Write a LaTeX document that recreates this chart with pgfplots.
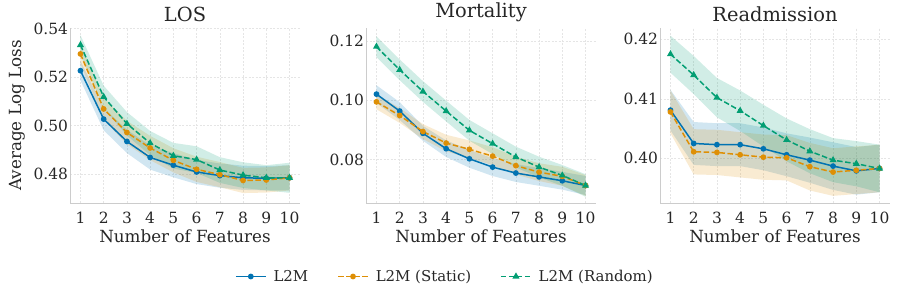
\documentclass[border=0pt]{standalone}
\usepackage{fontspec}
\setmainfont{DejaVu Serif}
\usepackage{pgfplots}
\usepackage{pgfplotstable}
\usepgfplotslibrary{fillbetween}
\pgfplotsset{compat=1.18}
\definecolor{cb}{HTML}{0173B2}
\definecolor{co}{HTML}{DE8F05}
\definecolor{cg}{HTML}{029E73}
\definecolor{spine}{HTML}{CCCCCC}
\definecolor{txt}{HTML}{262626}

\pgfplotstableread{
x b bl bh o ol oh g gl gh
1 0.5226 0.5186 0.5266 0.5295 0.5255 0.5335 0.5332 0.5292 0.5372
2 0.5026 0.4980 0.5072 0.5068 0.5022 0.5114 0.5118 0.5072 0.5164
3 0.4934 0.4886 0.4982 0.4971 0.4923 0.5019 0.5007 0.4959 0.5055
4 0.4868 0.4818 0.4918 0.4907 0.4857 0.4957 0.4927 0.4877 0.4977
5 0.4836 0.4786 0.4886 0.4856 0.4806 0.4906 0.4875 0.4822 0.4928
6 0.4808 0.4758 0.4858 0.4819 0.4767 0.4871 0.4859 0.4804 0.4914
7 0.4793 0.4743 0.4843 0.4797 0.4745 0.4849 0.4816 0.4763 0.4869
8 0.4784 0.4734 0.4834 0.4773 0.4721 0.4825 0.4795 0.4742 0.4848
9 0.4782 0.4732 0.4832 0.4775 0.4723 0.4827 0.4784 0.4732 0.4836
10 0.4784 0.4732 0.4836 0.4784 0.4732 0.4836 0.4784 0.4722 0.4846
}\los

\pgfplotstableread{
x b bl bh o ol oh g gl gh
1 0.1020 0.0990 0.1050 0.0994 0.0969 0.1019 0.1180 0.1145 0.1215
2 0.0963 0.0933 0.0993 0.0948 0.0923 0.0973 0.1102 0.1067 0.1137
3 0.0888 0.0863 0.0913 0.0894 0.0869 0.0919 0.1029 0.0994 0.1064
4 0.0836 0.0808 0.0864 0.0855 0.0827 0.0883 0.0963 0.0928 0.0998
5 0.0802 0.0772 0.0832 0.0834 0.0804 0.0864 0.0898 0.0863 0.0933
6 0.0774 0.0744 0.0804 0.0811 0.0781 0.0841 0.0853 0.0818 0.0888
7 0.0754 0.0724 0.0784 0.0779 0.0749 0.0809 0.0808 0.0773 0.0843
8 0.0741 0.0711 0.0771 0.0757 0.0727 0.0787 0.0774 0.0739 0.0809
9 0.0728 0.0698 0.0758 0.0743 0.0711 0.0775 0.0746 0.0711 0.0781
10 0.0712 0.0680 0.0744 0.0712 0.0677 0.0747 0.0712 0.0674 0.0750
}\mort

\pgfplotstableread{
x b bl bh o ol oh g gl gh
1 0.4081 0.4047 0.4115 0.4078 0.4042 0.4114 0.4175 0.4144 0.4206
2 0.4025 0.3989 0.4061 0.4011 0.3973 0.4049 0.4140 0.4108 0.4172
3 0.4023 0.3987 0.4059 0.4010 0.3972 0.4048 0.4102 0.4069 0.4135
4 0.4023 0.3987 0.4059 0.4006 0.3968 0.4044 0.4080 0.4046 0.4114
5 0.4016 0.3980 0.4052 0.4002 0.3964 0.4040 0.4055 0.4020 0.4090
6 0.4006 0.3970 0.4042 0.4001 0.3963 0.4039 0.4031 0.3995 0.4067
7 0.3997 0.3959 0.4035 0.3986 0.3946 0.4026 0.4012 0.3975 0.4049
8 0.3987 0.3947 0.4027 0.3977 0.3937 0.4017 0.3997 0.3960 0.4034
9 0.3979 0.3939 0.4019 0.3980 0.3940 0.4020 0.3991 0.3953 0.4029
10 0.3983 0.3943 0.4023 0.3983 0.3943 0.4023 0.3983 0.3943 0.4023
}\readm

\newcommand\bands[1]{%
  \addplot[draw=none,forget plot,name path=bl] table[x=x,y=bl]{#1};
  \addplot[draw=none,forget plot,name path=bh] table[x=x,y=bh]{#1};
  \addplot[fill=cb,fill opacity=0.18,draw=none,forget plot] fill between[of=bl and bh];
  \addplot[draw=none,forget plot,name path=ol] table[x=x,y=ol]{#1};
  \addplot[draw=none,forget plot,name path=oh] table[x=x,y=oh]{#1};
  \addplot[fill=co,fill opacity=0.18,draw=none,forget plot] fill between[of=ol and oh];
  \addplot[draw=none,forget plot,name path=gl] table[x=x,y=gl]{#1};
  \addplot[draw=none,forget plot,name path=gh] table[x=x,y=gh]{#1};
  \addplot[fill=cg,fill opacity=0.18,draw=none,forget plot] fill between[of=gl and gh];
}
\newcommand\lines[1]{%
  \addplot[cb,line width=1.5bp,mark=*,mark size=2.1bp] table[x=x,y=b]{#1};
  \addplot[co,line width=1.5bp,dash pattern=on 5.5bp off 2.5bp,mark=*,mark size=2.1bp,mark options={solid}] table[x=x,y=o]{#1};
  \addplot[cg,line width=1.5bp,dash pattern=on 5.5bp off 2.5bp,mark=triangle*,mark size=2.6bp,mark options={solid}] table[x=x,y=g]{#1};
}

\pgfplotsset{
  panel/.style={
    scale only axis, width=230bp, height=175bp,
    anchor=south west,
    xmin=0.55, xmax=10.45, xtick={1,...,10},
    axis lines*=left,
    axis line style={spine,line width=0.9bp},
    grid=major, grid style={dash pattern=on 2bp off 1.5bp, black!10, line width=0.5bp},
    major tick length=0pt,
    /pgf/number format/assume math mode=true,
    tick label style={font=\fontsize{15.5}{15.5}\selectfont, text=txt},
    xticklabel style={yshift=-6bp},
    yticklabel style={xshift=1.5bp, /pgf/number format/.cd, fixed, fixed zerofill, precision=2},
    label style={font=\fontsize{16.8}{16.8}\selectfont, text=txt},
    xlabel={Number of Features},
    xlabel style={yshift=1bp},
    title style={font=\fontsize{19.5}{19.5}\selectfont, text=txt, yshift=-3bp},
  }
}

\begin{document}
\begin{tikzpicture}
\begin{axis}[panel, at={(70bp,95bp)}, title={LOS},
  ymin=0.468, ymax=0.5402, ytick={0.48,0.50,0.52,0.54},
  ylabel={Average Log Loss}, ylabel style={yshift=2bp}]
\bands{\los}
\lines{\los}
\end{axis}
\begin{axis}[panel, at={(366bp,95bp)}, title={Mortality},
  ymin=0.0653, ymax=0.1243, ytick={0.08,0.10,0.12},
  legend columns=3,
  legend style={at={(0.343,-0.42)}, anchor=center, draw=none, fill=none,
    font=\fontsize{15}{15}\selectfont, text=txt,
    /tikz/every odd column/.append style={column sep=5bp},
    /tikz/every even column/.append style={column sep=27bp}},
  legend image code/.code={\draw[mark repeat=2,mark phase=2,#1] plot coordinates {(0bp,0bp) (15bp,0bp) (30bp,0bp)};}]
\bands{\mort}
\lines{\mort}
\legend{L2M, L2M (Static), L2M (Random)}
\end{axis}
\begin{axis}[panel, at={(660bp,95bp)}, title={Readmission},
  ymin=0.3925, ymax=0.4219, ytick={0.40,0.41,0.42}]
\bands{\readm}
\lines{\readm}
\end{axis}
\pgfresetboundingbox
\useasboundingbox (0,0) rectangle (897bp,298bp);
\end{tikzpicture}
\end{document}
